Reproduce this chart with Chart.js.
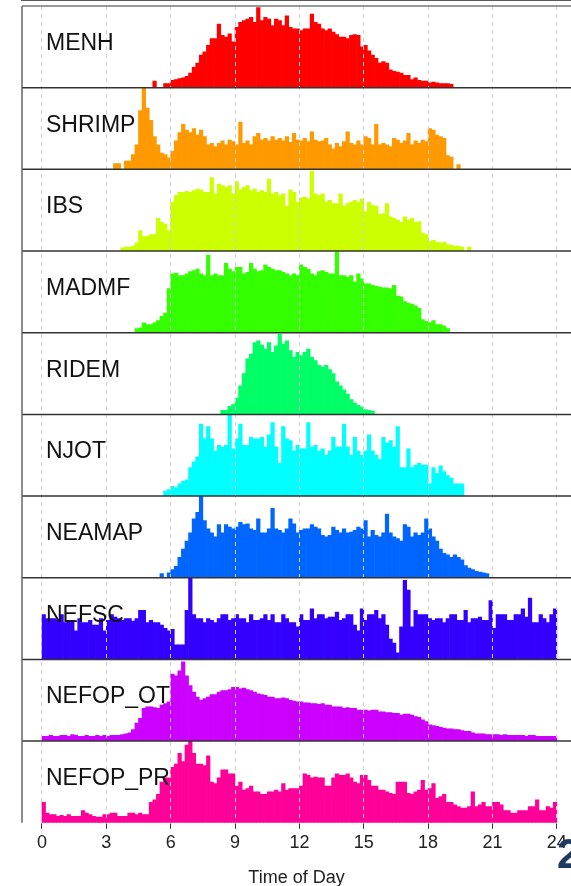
<!DOCTYPE html>
<html>
<head>
<meta charset="utf-8">
<script src="https://cdn.jsdelivr.net/npm/chart.js@4.4.1/dist/chart.umd.min.js"></script>
<style>
  html, body { margin: 0; padding: 0; background: #fff; overflow: hidden; }
  #wrap { position: relative; width: 571px; height: 886px; }
  #slideNo { position: absolute; left: 557px; top: 833px; font: bold 42px "Liberation Sans", Arial, sans-serif; line-height: 1; color: #1f3a5f; }
</style>
</head>
<body>
<div id="wrap">
  <canvas id="timeOfDay" width="571" height="886"></canvas>
  <div id="slideNo">2</div>
</div>
<script>
// 10-minute bins, 0h..24h (144 per survey); heights are % of each panel's max
const binHours = 1 / 6;
const hourTicks = [0, 3, 6, 9, 12, 15, 18, 21, 24];

const menh = [
  0,0,0,0,0,0, 0,0,0,0,0,0, 0,0,0,0,0,0, 0,0,0,0,0,0, 0,0,0,0,0,0, 0,8,0,0,5,5,
  9,10,11,12,14,18, 25,30,40,44,52,60, 60,78,64,62,66,56, 74,80,82,84,86,80, 98,82,86,84,76,84, 82,76,88,74,72,72,
  70,72,72,90,80,78, 72,70,72,68,65,62, 62,60,64,65,64,50, 52,45,40,36,30,32, 30,22,20,19,18,15, 15,10,12,9,8,8,
  6,7,6,5,5,5, 4,0,0,0,0,0, 0,0,0,0,0,0, 0,0,0,0,0,0, 0,0,0,0,0,0, 0,0,0,0,0,0
];
const shrimp = [
  0,0,0,0,0,0, 0,0,0,0,0,0, 0,0,0,0,0,0, 0,0,7,7,0,10, 10,18,30,72,100,75, 60,40,30,20,18,14,
  22,35,45,55,48,45, 50,42,48,40,30,32, 28,32,35,30,36,34, 30,58,32,35,30,40, 44,36,38,35,40,36, 38,35,40,33,44,36,
  35,38,34,46,36,34, 35,38,30,25,32,28, 34,46,32,30,35,30, 40,38,30,55,30,32, 30,28,38,36,32,35, 44,30,35,32,36,34,
  50,48,42,40,38,17, 15,0,6,0,0,0, 0,0,0,0,0,0, 0,0,0,0,0,0, 0,0,0,0,0,0, 0,0,0,0,0,0
];
const ibs = [
  0,0,0,0,0,0, 0,0,0,0,0,0, 0,0,0,0,0,0, 0,0,0,0,4,5, 5,6,10,25,18,18, 20,20,40,35,33,25,
  60,68,72,72,73,72, 74,76,75,72,72,90, 70,82,80,78,80,70, 85,75,78,80,74,76, 72,74,72,88,70,72, 68,70,55,75,72,60,
  65,66,64,98,70,68, 70,60,62,58,58,70, 55,58,60,62,60,64, 48,60,56,55,45,46, 58,42,40,38,35,42, 38,40,35,36,22,20,
  12,13,11,10,11,8, 7,6,6,5,0,5, 0,0,0,0,0,0, 0,0,0,0,0,0, 0,0,0,0,0,0, 0,0,0,0,0,0
];
const madmf = [
  0,0,0,0,0,0, 0,0,0,0,0,0, 0,0,0,0,0,0, 0,0,0,0,0,0, 0,0,5,6,12,10, 10,12,15,20,24,54,
  72,73,70,70,72,75, 76,78,72,70,95,70, 72,70,70,85,78,75, 80,80,72,74,85,78, 75,76,83,80,78,76, 76,74,72,70,72,70,
  83,80,78,72,70,75, 76,74,72,72,99,70, 70,68,70,62,72,66, 60,60,58,57,56,55, 55,54,58,45,44,38, 36,35,33,30,16,14,
  12,15,10,10,8,5, 0,0,0,0,0,0, 0,0,0,0,0,0, 0,0,0,0,0,0, 0,0,0,0,0,0, 0,0,0,0,0,0
];
const ridem = [
  0,0,0,0,0,0, 0,0,0,0,0,0, 0,0,0,0,0,0, 0,0,0,0,0,0, 0,0,0,0,0,0, 0,0,0,0,0,0,
  0,0,0,0,0,0, 0,0,0,0,0,0, 0,0,5,5,10,12, 20,35,50,68,74,88, 90,85,80,88,76,84, 98,86,90,78,70,76,
  72,76,80,70,66,60, 58,60,55,50,40,35, 30,25,18,14,11,9, 6,5,4,0,0,0, 0,0,0,0,0,0, 0,0,0,0,0,0,
  0,0,0,0,0,0, 0,0,0,0,0,0, 0,0,0,0,0,0, 0,0,0,0,0,0, 0,0,0,0,0,0, 0,0,0,0,0,0
];
const njot = [
  0,0,0,0,0,0, 0,0,0,0,0,0, 0,0,0,0,0,0, 0,0,0,0,0,0, 0,0,0,0,0,0, 0,0,0,0,6,8,
  12,10,15,18,20,35, 42,48,88,70,85,70, 55,62,60,62,100,58, 70,88,62,62,72,70, 70,72,60,75,90,60, 40,85,70,68,55,62,
  58,58,90,60,62,55, 58,50,55,72,60,60, 88,60,50,72,55,50, 55,75,55,50,45,72, 65,68,60,85,35,35, 58,35,38,40,38,38,
  15,35,28,37,30,25, 22,15,15,15,0,0, 0,0,0,0,0,0, 0,0,0,0,0,0, 0,0,0,0,0,0, 0,0,0,0,0,0
];
const neamap = [
  0,0,0,0,0,0, 0,0,0,0,0,0, 0,0,0,0,0,0, 0,0,0,0,0,0, 0,0,0,0,0,0, 0,0,0,5,0,6,
  10,14,25,35,45,55, 72,80,100,70,60,55, 50,65,55,65,62,60, 62,68,65,66,60,58, 72,55,55,60,85,60, 58,55,60,72,66,55,
  58,60,60,65,62,60, 52,50,52,62,58,55, 60,55,56,58,62,60, 70,50,58,52,50,55, 78,55,50,48,45,65, 62,50,55,52,55,72,
  60,50,45,35,30,28, 25,28,25,22,15,12, 10,8,7,6,5,0, 0,0,0,0,0,0, 0,0,0,0,0,0, 0,0,0,0,0,0
];
const nefsc = [
  55,50,50,50,48,55, 45,48,48,35,50,45, 45,48,42,42,50,35, 48,55,52,50,48,50, 50,47,50,60,60,45, 48,45,45,42,38,35,
  37,18,18,18,60,100, 55,50,50,45,50,48, 45,50,55,55,48,50, 55,50,50,45,55,48, 48,50,55,48,55,45, 45,55,50,45,45,40,
  55,48,48,62,50,55, 55,50,52,52,58,48, 50,55,55,42,35,62, 48,55,55,60,50,55, 42,25,20,8,40,97, 85,40,60,55,55,55,
  50,48,50,50,45,50, 55,55,48,48,60,45, 50,50,52,48,48,72, 38,55,55,55,48,48, 55,55,62,52,75,45, 45,55,50,45,55,62
];
const nefopOt = [
  6,6,7,6,6,7, 7,6,8,7,6,6, 7,6,6,7,6,7, 6,7,7,7,8,9, 10,14,22,28,40,42, 42,41,40,44,46,48,
  82,80,86,97,80,68, 60,54,50,52,54,57, 57,60,62,62,63,66, 66,64,65,63,62,60, 58,57,56,54,54,52, 52,53,52,50,49,48,
  48,47,47,46,46,45, 46,44,44,42,42,42, 40,41,40,40,38,38, 38,37,38,38,36,36, 35,35,34,34,32,33, 33,32,30,29,26,24,
  20,19,18,17,16,15, 15,14,14,13,12,12, 10,9,9,9,8,8, 8,8,7,8,7,7, 7,7,7,6,7,7, 6,6,6,6,6,6
];
const nefopPr = [
  25,12,10,10,8,9, 8,10,8,8,8,15, 12,10,8,7,7,10, 10,12,12,8,8,8, 12,12,10,12,10,10, 25,28,35,50,55,55,
  68,72,85,75,95,100, 85,72,72,70,82,50, 48,55,65,65,60,60, 45,50,40,42,45,38, 38,35,35,38,38,40, 38,48,40,42,42,42,
  45,60,58,55,56,55, 55,45,45,55,60,58, 58,60,55,50,48,58, 58,52,45,45,40,40, 38,36,35,50,50,50, 36,35,38,40,52,40,
  42,48,30,32,35,25, 25,22,20,18,18,20, 38,20,22,25,20,20, 25,25,22,15,15,12, 12,15,15,15,20,20, 28,15,15,20,18,25
];

const panelNames = ["MENH", "SHRIMP", "IBS", "MADMF", "RIDEM", "NJOT", "NEAMAP", "NEFSC", "NEFOP_OT", "NEFOP_PR"];
const panelCounts = [menh, shrimp, ibs, madmf, ridem, njot, neamap, nefsc, nefopOt, nefopPr];
const panelColors = ["#FF0000", "#FF9900", "#CCFF00", "#33FF00", "#00FF66",
                     "#00FFFF", "#0066FF", "#3300FF", "#CC00FF", "#FF0099"];

Chart.defaults.font.family = '"Liberation Sans", Arial, sans-serif';

const scales = {
  x: {
    type: "linear",
    min: -0.93,
    max: 24.66,
    offset: false,
    afterBuildTicks: s => { s.ticks = hourTicks.map(v => ({ value: v })); },
    grid: {
      z: 1,
      offset: false,
      color: "#cfcfcf",
      tickColor: "#333",
      tickBorderDash: [],
      tickLength: 6
    },
    // in v4 the dash of the grid lines lives under border
    border: { display: true, color: "#222", width: 1.5, dash: [4, 4] },
    ticks: { color: "#222", font: { size: 18 }, padding: 3, maxRotation: 0, autoSkip: false },
    title: { display: true, text: "Time of Day", color: "#222", font: { size: 18 }, padding: { top: 11, bottom: -3 } }
  }
};

// one stacked y axis per survey panel, top panel first
panelNames.forEach((name, i) => {
  scales["y" + i] = {
    type: "linear",
    position: "left",
    stack: "panels",
    stackWeight: 1,
    weight: panelNames.length - i,
    min: 0,
    max: 100,
    ticks: { display: false },
    grid: { display: false, drawTicks: false },
    border: { display: false },
    title: { display: false }
  };
});

const panelFrame = {
  id: "panelFrame",
  afterDraw(chart) {
    const { ctx, chartArea } = chart;
    ctx.save();
    panelNames.forEach((name, i) => {
      const s = chart.scales["y" + i];
      ctx.strokeStyle = i === 0 ? "#777" : "#333";
      ctx.lineWidth = 1.5;
      ctx.beginPath();
      ctx.moveTo(chartArea.left, s.top);
      ctx.lineTo(chartArea.right, s.top);
      ctx.stroke();

      ctx.fillStyle = "#111";
      ctx.font = '23px "Liberation Sans", Arial, sans-serif';
      ctx.textBaseline = "alphabetic";
      ctx.fillText(name, chartArea.left + 24, s.top + 44);
    });
    ctx.strokeStyle = "#666";
    ctx.lineWidth = 1.5;
    ctx.beginPath();
    ctx.moveTo(chartArea.left, chartArea.top);
    ctx.lineTo(chartArea.left, chartArea.bottom);
    ctx.stroke();
    ctx.restore();
  }
};

new Chart(document.getElementById("timeOfDay"), {
  type: "bar",
  data: {
    datasets: panelCounts.map((counts, i) => ({
      label: panelNames[i],
      // empty bins are left out so no hairline is drawn on the baseline
      data: counts.map((v, k) => ({ x: (k + 0.5) * binHours, y: v === 0 ? null : v })),
      xAxisID: "x",
      yAxisID: "y" + i,
      backgroundColor: panelColors[i],
      borderWidth: 0,
      grouped: false,
      barPercentage: 1,
      categoryPercentage: 1
    }))
  },
  options: {
    responsive: false,
    animation: false,
    layout: { padding: { top: 6, left: 22, right: 0, bottom: 0 } },
    scales,
    plugins: {
      legend: { display: false },
      tooltip: { enabled: false }
    }
  },
  plugins: [panelFrame]
});
</script>
</body>
</html>
